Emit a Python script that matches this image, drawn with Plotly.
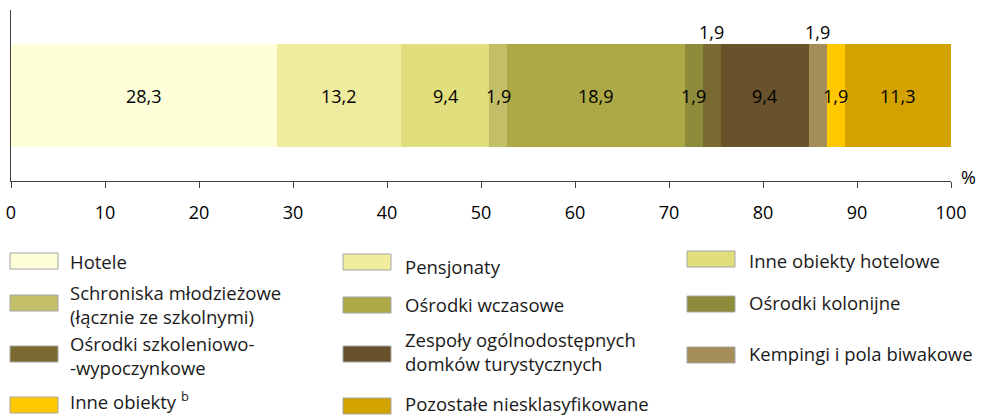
import plotly.graph_objects as go

# Share of accommodation establishments by type (%)
categories = [
    "Hotele",
    "Pensjonaty",
    "Inne obiekty hotelowe",
    "Schroniska młodzieżowe<br>(łącznie ze szkolnymi)",
    "Ośrodki wczasowe",
    "Ośrodki kolonijne",
    "Ośrodki szkoleniowo-<br>-wypoczynkowe",
    "Zespoły ogólnodostępnych<br>domków turystycznych",
    "Kempingi i pola biwakowe",
    "Inne obiekty <sup>b</sup>",
    "Pozostałe niesklasyfikowane",
]
values = [28.3, 13.2, 9.4, 1.9, 18.9, 1.9, 1.9, 9.4, 1.9, 1.9, 11.3]
colors = [
    "#FEFED8", "#F0EC9F", "#E1DE7E", "#C3BE68", "#ADA947", "#8E8C3A",
    "#7A6A32", "#68522B", "#A58E5A", "#FFC800", "#D1A200",
]
# segments whose value label sits above the bar
label_above = [False, False, False, False, False, False, True, False, True, False, False]
x_ticks = [0, 10, 20, 30, 40, 50, 60, 70, 80, 90, 100]

FONT = "Open Sans"
W, H = 985, 416
PL, PR, PT, PB = 11, 951, 10, 181  # plot area edges in pixels

fig = go.Figure()

base = 0.0
annotations = []
for name, val, col, above in zip(categories, values, colors, label_above):
    fig.add_trace(go.Bar(
        x=[val], y=[0], base=[base], orientation="h",
        marker=dict(color=col, line=dict(width=0)),
        width=0.6, name=name, showlegend=False, hoverinfo="skip",
    ))
    centre = base + val / 2
    txt = f"{val:.1f}".replace(".", ",")
    if above:
        annotations.append(dict(x=centre, y=0.3, xref="x", yref="y", text=txt,
                                showarrow=False, yanchor="bottom", yshift=-2,
                                font=dict(size=18, color="#000", family=FONT)))
    else:
        annotations.append(dict(x=centre, y=0, xref="x", yref="y", text=txt,
                                showarrow=False,
                                font=dict(size=18, color="#000", family=FONT)))
    base += val

# unit label at the end of the axis
annotations.append(dict(x=1.0, y=0, xref="paper", yref="paper", text="%",
                        showarrow=False, xanchor="left", yanchor="middle",
                        xshift=8, yshift=4,
                        font=dict(size=18, color="#000", family=FONT)))


def px_x(x):
    return (x - PL) / (PR - PL)


def px_y(y):
    return (PB - y) / (PB - PT)


# legend laid out in three columns below the chart
swatch_x = [10, 343, 687]
text_x = [68, 403, 747]
swatch_y = [[261, 303, 354, 405], [262, 305, 354, 406], [259, 304, 355]]
text_y = [[261, 304, 356, 400], [266, 304, 351, 403], [260, 302, 353]]
shapes = []
for i, (name, col) in enumerate(zip(categories, colors)):
    r, c = divmod(i, 3)
    sx, sy = swatch_x[c], swatch_y[c][r]
    shapes.append(dict(type="rect", xref="paper", yref="paper",
                       x0=px_x(sx), x1=px_x(sx + 48),
                       y0=px_y(sy + 8), y1=px_y(sy - 8),
                       fillcolor=col, line=dict(color="#A6A6A6", width=1)))
    annotations.append(dict(x=px_x(text_x[c]), y=px_y(text_y[c][r]),
                            xref="paper", yref="paper", text=name, showarrow=False,
                            xanchor="left", yanchor="middle", align="left",
                            font=dict(size=18.5, color="#1a1a1a", family=FONT)))

fig.update_layout(
    width=W, height=H,
    margin=dict(l=PL, r=W - PR, t=PT, b=H - PB, autoexpand=False),
    paper_bgcolor="white", plot_bgcolor="white",
    barmode="overlay",
    bargap=0,
    xaxis=dict(range=[0, 100], tickvals=x_ticks, ticktext=[str(t) for t in x_ticks],
               showgrid=False, zeroline=False, showline=True, linecolor="#404040",
               linewidth=1, ticks="outside", ticklen=6, tickcolor="#404040",
               ticklabelstandoff=9, automargin=False,
               tickfont=dict(size=18, color="#000", family=FONT), fixedrange=True),
    yaxis=dict(range=[-0.5, 0.5], showticklabels=False, showgrid=False,
               zeroline=False, showline=True, linecolor="#404040", linewidth=1,
               ticks="", automargin=False, fixedrange=True),
    annotations=annotations,
    shapes=shapes,
    showlegend=False,
)

fig.write_html("out.html")
